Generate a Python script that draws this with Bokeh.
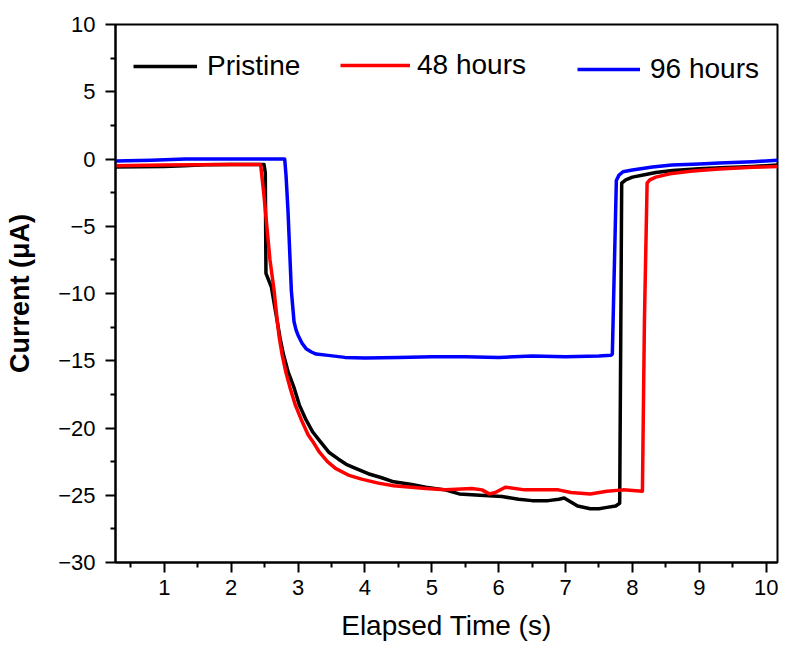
from bokeh.plotting import figure
from bokeh.models import Range1d, FixedTicker, CustomJSTickFormatter, Legend, LegendItem
from bokeh.embed import file_html
from bokeh.resources import INLINE

# ---- data ----
pristine_t = [0.27, 1.0, 1.3, 1.6, 2.0, 2.49, 2.51, 2.52, 2.6, 2.69, 2.73, 2.78, 2.85, 2.94, 3.02, 3.12,
              3.22, 3.33, 3.46, 3.6, 3.72, 3.86, 4.05, 4.25, 4.43, 4.7, 4.91, 5.2, 5.41, 5.72, 6.05,
              6.3, 6.5, 6.74, 6.9, 6.98, 7.18, 7.37, 7.5, 7.62, 7.75, 7.81, 7.83,
              7.84, 7.9, 8.0, 8.2, 8.35, 8.6, 9.0, 9.32, 9.8, 10.17]
pristine_i = [-0.6, -0.55, -0.5, -0.42, -0.4, -0.4, -1.0, -8.5, -9.5, -12.1, -13.3, -14.5, -15.8, -17.0, -18.3, -19.4,
              -20.3, -21.0, -21.8, -22.3, -22.7, -23.0, -23.4, -23.7, -24.0, -24.2, -24.4, -24.6, -24.9, -25.0, -25.1,
              -25.3, -25.4, -25.4, -25.3, -25.2, -25.8, -26.0, -26.0, -25.9, -25.8, -25.6, -10.0,
              -1.8, -1.55, -1.35, -1.15, -1.0, -0.85, -0.72, -0.65, -0.55, -0.45]

h48_t = [0.27, 1.0, 2.0, 2.44, 2.49, 2.58, 2.64, 2.69, 2.72, 2.76, 2.82, 2.88, 2.96, 3.05, 3.15, 3.22,
         3.32, 3.44, 3.56, 3.75, 3.95, 4.2, 4.43, 4.91, 5.2, 5.6, 5.75, 5.86, 5.95, 6.1, 6.39, 6.89,
         7.08, 7.37, 7.62, 7.86, 8.15, 8.18,
         8.22, 8.26, 8.35, 8.56, 8.9, 9.3, 9.8, 10.17]
h48_i = [-0.5, -0.45, -0.4, -0.4, -2.7, -7.5, -9.7, -12.1, -13.3, -14.5, -15.9, -17.0, -18.3, -19.4, -20.5, -21.0,
         -21.8, -22.5, -23.0, -23.5, -23.8, -24.1, -24.3, -24.5, -24.6, -24.5, -24.6, -24.9, -24.8, -24.4, -24.6, -24.6,
         -24.8, -24.9, -24.7, -24.6, -24.7, -12.0,
         -1.8, -1.55, -1.35, -1.1, -0.9, -0.75, -0.62, -0.55]

h96_t = [0.27, 0.8, 1.32, 2.0, 2.8, 2.82, 2.85, 2.9, 2.94, 2.97, 3.0, 3.06, 3.12, 3.2, 3.27, 3.45, 3.7, 4.0,
         4.5, 5.0, 5.5, 6.0, 6.5, 7.0, 7.5, 7.68, 7.7,
         7.76, 7.8, 7.86, 8.0, 8.1, 8.3, 8.59, 9.0, 9.3, 9.8, 10.17]
h96_i = [-0.15, -0.1, 0.0, 0.0, 0.0, -1.2, -3.9, -9.8, -12.1, -12.7, -13.1, -13.7, -14.1, -14.35, -14.5, -14.6, -14.75, -14.8,
         -14.75, -14.7, -14.7, -14.75, -14.65, -14.7, -14.65, -14.6, -14.5,
         -1.6, -1.2, -0.95, -0.82, -0.75, -0.6, -0.45, -0.37, -0.3, -0.2, -0.1]

x_ticks = [1, 2, 3, 4, 5, 6, 7, 8, 9, 10]
x_minor = [0.5, 1.5, 2.5, 3.5, 4.5, 5.5, 6.5, 7.5, 8.5, 9.5]
y_ticks = [-30, -25, -20, -15, -10, -5, 0, 5, 10]
y_minor = [-27.5, -22.5, -17.5, -12.5, -7.5, -2.5, 2.5, 7.5]
labels = ["Pristine", "48 hours", "96 hours"]
colors = ["#000000", "#FF0000", "#0000FF"]

FONT = "Liberation Sans"

p = figure(width=780, height=646, output_backend="svg", toolbar_location=None,
           x_range=Range1d(0.27, 10.17), y_range=Range1d(-30, 10),
           min_border_left=115, min_border_right=3, min_border_top=24, min_border_bottom=84)
p.background_fill_color = "white"
p.border_fill_color = "white"
p.outline_line_color = "black"
p.outline_line_width = 2
p.xgrid.visible = False
p.ygrid.visible = False

r1 = p.line(pristine_t, pristine_i, line_color=colors[0], line_width=3.5, line_join="round")
r2 = p.line(h48_t, h48_i, line_color=colors[1], line_width=3.5, line_join="round")
r3 = p.line(h96_t, h96_i, line_color=colors[2], line_width=3.5, line_join="round")

fmt = CustomJSTickFormatter(code="return (tick < 0 ? '\u2212' : '') + Math.abs(tick).toString();")

for ax in (p.xaxis[0], p.yaxis[0]):
    ax.axis_line_width = 2
    ax.axis_line_color = "black"
    ax.major_tick_line_width = 2
    ax.minor_tick_line_width = 2
    ax.major_tick_line_color = "black"
    ax.minor_tick_line_color = "black"
    ax.major_tick_in = 0
    ax.major_tick_out = 10
    ax.minor_tick_in = 0
    ax.minor_tick_out = 5
    ax.major_label_text_font = FONT
    ax.major_label_text_font_size = "22px"
    ax.major_label_text_color = "black"
    ax.axis_label_text_font = FONT
    ax.axis_label_text_color = "black"
    ax.formatter = fmt

p.xaxis[0].ticker = FixedTicker(ticks=x_ticks, minor_ticks=x_minor)
p.yaxis[0].ticker = FixedTicker(ticks=y_ticks, minor_ticks=y_minor)
p.xaxis[0].axis_label = "Elapsed Time (s)"
p.xaxis[0].axis_label_text_font_size = "28px"
p.xaxis[0].axis_label_text_font_style = "normal"
p.xaxis[0].major_label_standoff = 7
p.xaxis[0].axis_label_standoff = 12
p.yaxis[0].axis_label = "Current (\u03bcA)"
p.yaxis[0].axis_label_text_font_size = "27px"
p.yaxis[0].axis_label_text_font_style = "bold"
p.yaxis[0].major_label_standoff = 10
p.yaxis[0].axis_label_standoff = 20

def add_legend(label, rend, loc, gw, standoff):
    lg = Legend(items=[LegendItem(label=label, renderers=[rend])], location=loc,
                orientation="horizontal", padding=0, margin=0, spacing=0,
                glyph_width=gw, glyph_height=30, label_height=30, label_standoff=standoff,
                label_text_font=FONT, label_text_font_size="28px", label_text_color="black",
                border_line_alpha=0, background_fill_alpha=0)
    p.add_layout(lg, "center")

add_legend(labels[0], r1, (18, 480), 64, 10)
add_legend(labels[1], r2, (225, 481), 70, 7)
add_legend(labels[2], r3, (462, 477), 63, 10)

open("out.html", "w").write(file_html(p, INLINE))
